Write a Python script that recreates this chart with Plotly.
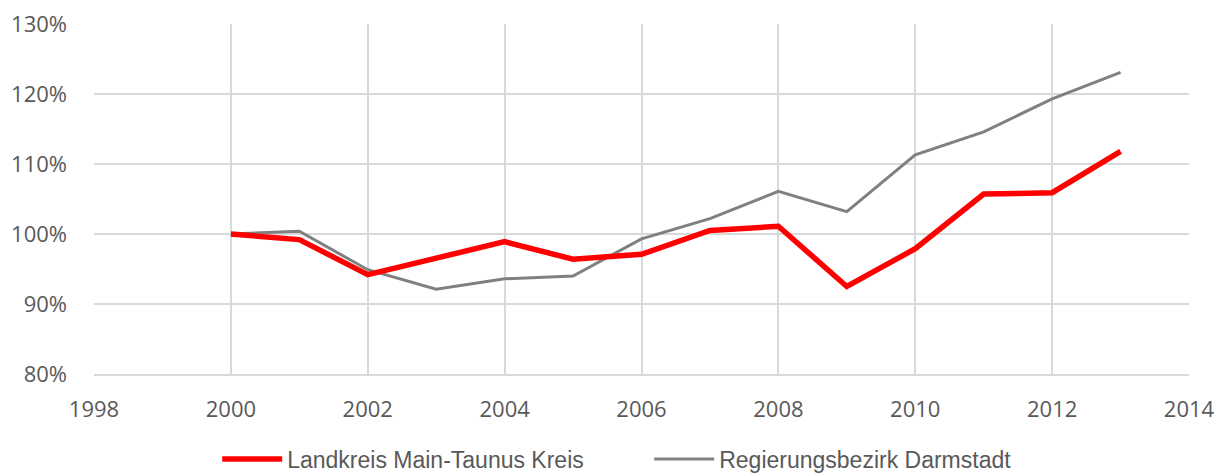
import plotly.graph_objects as go

years = list(range(2000, 2014))
main_taunus = [100.0, 99.2, 94.2, 96.5, 98.9, 96.4, 97.1, 100.5, 101.1, 92.5, 97.9, 105.7, 105.9, 111.8]
darmstadt = [100.0, 100.4, 94.9, 92.1, 93.6, 94.0, 99.3, 102.2, 106.1, 103.2, 111.3, 114.6, 119.3, 123.1]

series_names = ["Landkreis Main-Taunus Kreis", "Regierungsbezirk Darmstadt"]
x_ticks = list(range(1998, 2015, 2))
y_ticks = [80, 90, 100, 110, 120, 130]

grid = "#d9d9d9"
label_col = "#595959"

fig = go.Figure()
# grey series first so the red one is drawn on top
fig.add_trace(go.Scatter(
    x=years, y=[v / 100 for v in darmstadt], name=series_names[1], mode="lines",
    line=dict(color="#808080", width=3),
))
fig.add_trace(go.Scatter(
    x=years, y=[v / 100 for v in main_taunus], name=series_names[0], mode="lines",
    line=dict(color="#ff0000", width=5.5),
))

fig.update_layout(
    width=1225, height=475,
    margin=dict(l=94, r=36, t=24, b=101, autoexpand=False),
    paper_bgcolor="white", plot_bgcolor="white",
    font=dict(family="Open Sans, sans-serif", size=22, color=label_col),
    showlegend=True,
    legend=dict(
        orientation="h", x=0.1125, xanchor="left", y=-0.243, yanchor="middle",
        traceorder="reversed",
        font=dict(family="Liberation Sans, Arial, sans-serif", size=23, color=label_col),
        itemwidth=60, entrywidth=357, bgcolor="rgba(0,0,0,0)",
    ),
    xaxis=dict(
        range=[1998, 2014], tickvals=x_ticks, ticktext=[str(t) for t in x_ticks],
        showgrid=True, gridcolor=grid, gridwidth=1.5,
        showline=True, linecolor=grid, linewidth=1.5, mirror=False,
        zeroline=False, ticks="", ticklabelstandoff=15,
    ),
    yaxis=dict(
        range=[0.8, 1.3], tickvals=[t / 100 for t in y_ticks], ticktext=[f"{t}%" for t in y_ticks],
        showgrid=True, gridcolor=grid, gridwidth=1.5,
        showline=False, zeroline=False, ticks="", ticklabelstandoff=26,
    ),
)

fig.write_html("out.html")
